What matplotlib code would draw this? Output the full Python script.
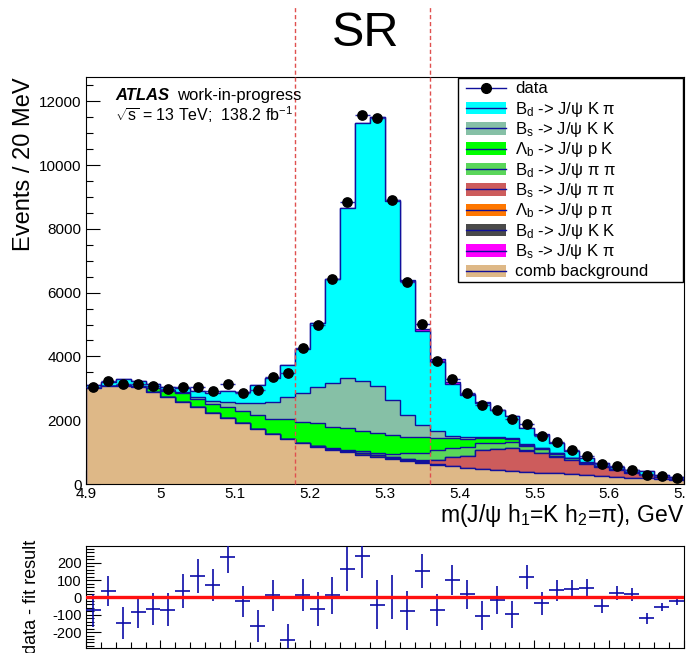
import numpy as np
import matplotlib
matplotlib.use('Agg')
import matplotlib.pyplot as plt
from matplotlib.patches import Rectangle
from matplotlib.lines import Line2D
from matplotlib.ticker import MultipleLocator, FuncFormatter

plt.rcParams['font.family'] = ['Liberation Sans', 'DejaVu Sans']
plt.rcParams['mathtext.fontset'] = 'custom'
plt.rcParams['mathtext.rm'] = 'Liberation Sans'
plt.rcParams['mathtext.it'] = 'Liberation Sans:italic'
plt.rcParams['mathtext.bf'] = 'Liberation Sans:bold'
plt.rcParams['axes.unicode_minus'] = False

# ---- data (40 bins of 20 MeV, 4.9 - 5.7 GeV) ----
data = [3044, 3240, 3131, 3146, 3075, 2969, 3044, 3044, 2928, 3137,
        2866, 2938, 3343, 3480, 4250, 4975, 6440, 8826, 11558, 11474,
        8900, 6334, 5016, 3841, 3302, 2844, 2470, 2305, 2047, 1879,
        1517, 1318, 1081, 872, 614, 570, 445, 280, 240, 187]

comb_bkg = [3000, 3080, 3080, 3030, 2900, 2730, 2560, 2400, 2230, 2070,
            1900, 1730, 1560, 1400, 1270, 1170, 1080, 1000, 920, 840,
            770, 710, 660, 600, 550, 510, 480, 450, 420, 390,
            360, 335, 310, 285, 260, 230, 200, 180, 155, 130]
bd_kk = [0, 0, 0, 0, 0, 0, 0, 0, 0, 0,
         0, 0, 0, 0, 0, 10, 20, 40, 60, 70,
         60, 40, 25, 15, 10, 5, 0, 0, 0, 0,
         0, 0, 0, 0, 0, 0, 0, 0, 0, 0]
bs_pipi = [0, 0, 0, 0, 0, 0, 0, 0, 0, 0,
           0, 0, 0, 0, 0, 0, 0, 0, 5, 10,
           20, 30, 50, 137, 276, 365, 586, 637, 698, 655,
           601, 522, 442, 342, 283, 209, 154, 100, 60, 30]
lb_ppi = [0, 0, 0, 0, 0, 0, 0, 0, 0, 0,
          0, 0, 0, 0, 0, 0, 0, 0, 0, 0,
          0, 0, 5, 8, 10, 12, 12, 12, 12, 10,
          10, 8, 8, 6, 5, 4, 3, 2, 1, 1]
bd_pipi = [0, 0, 0, 0, 0, 0, 0, 0, 0, 0,
           0, 0, 0, 0, 10, 15, 20, 30, 40, 40,
           80, 182, 242, 306, 272, 258, 197, 197, 177, 125,
           120, 85, 55, 35, 20, 15, 10, 8, 5, 3]
lb_pk = [0, 0, 10, 40, 120, 195, 290, 270, 290, 340,
         380, 430, 470, 630, 675, 707, 677, 675, 647, 650,
         606, 521, 481, 367, 315, 261, 157, 136, 104, 52,
         30, 20, 10, 5, 3, 2, 1, 1, 0, 0]
bs_kk = [0, 0, 0, 0, 5, 10, 30, 60, 90, 160,
         250, 380, 550, 690, 890, 1129, 1360, 1568, 1567, 1472,
         1097, 680, 387, 239, 72, 70, 40, 30, 25, 15,
         10, 8, 5, 3, 2, 2, 1, 1, 0, 0]
bd_kpi = [117, 122, 189, 163, 117, 105, 126, 189, 245, 332,
          359, 563, 751, 1006, 1393, 2011, 3271, 5346, 8079, 8434,
          6227, 4188, 2932, 2162, 1637, 1304, 1079, 843, 699, 505,
          416, 294, 200, 138, 87, 82, 56, 108, 72, 41]
bs_kpi = [0, 0, 0, 0, 0, 0, 0, 0, 0, 0,
          0, 0, 0, 0, 0, 0, 0, 0, 0, 0,
          40, 60, 80, 80, 60, 40, 25, 15, 10, 8,
          5, 4, 3, 2, 2, 1, 1, 1, 1, 1]

resid = [-73, 38, -148, -87, -67, -71, 38, 125, 73, 235,
         -23, -165, 12, -246, 12, -67, 12, 167, 240, -42,
         0, -77, 154, -73, 100, 19, -106, -15, -98, 119,
         -35, 42, 48, 56, -48, 25, 19, -121, -54, -19]
resid_err = [95, 88, 90, 88, 95, 95, 100, 98, 93, 95,
             90, 90, 90, 90, 92, 100, 105, 127, 125, 140,
             127, 112, 97, 90, 87, 83, 83, 81, 76, 71,
             66, 60, 52, 52, 44, 40, 37, 30, 22, 24]

NAVY = '#10109c'
# stack order, bottom to top
stack = [
    (comb_bkg, '#deb887'),
    (bd_kk, '#4a4a4a'),
    (bs_pipi, '#cd5c5c'),
    (lb_ppi, '#ff7700'),
    (bd_pipi, '#5ad65a'),
    (lb_pk, '#00ff00'),
    (bs_kk, '#86c0a6'),
    (bd_kpi, '#00ffff'),
    (bs_kpi, '#ff00ff'),
]
legend_rows = [
    ('B$_\\mathrm{d}$ -> J/ψ K π', '#00ffff'),
    ('B$_\\mathrm{s}$ -> J/ψ K K', '#86c0a6'),
    ('Λ$_\\mathrm{b}$ -> J/ψ p K', '#00ff00'),
    ('B$_\\mathrm{d}$ -> J/ψ π π', '#5ad65a'),
    ('B$_\\mathrm{s}$ -> J/ψ π π', '#cd5c5c'),
    ('Λ$_\\mathrm{b}$ -> J/ψ p π', '#ff7700'),
    ('B$_\\mathrm{d}$ -> J/ψ K K', '#4a4a4a'),
    ('B$_\\mathrm{s}$ -> J/ψ K π', '#ff00ff'),
    ('comb background', '#deb887'),
]

W, H = 686, 653
fig = plt.figure(figsize=(W / 100, H / 100), dpi=100)


def fx(x):
    return x / W


def fy(y):
    return 1 - y / H


ax = fig.add_axes([fx(85.7), fy(484), (684 - 85.7) / W, (484 - 77) / H])
rax = fig.add_axes([fx(85.7), fy(648), (684 - 85.7) / W, (648 - 546) / H])

edges = np.linspace(4.9, 5.7, 41)
centers = 0.5 * (edges[1:] + edges[:-1])

cum = np.cumsum([np.array(v, dtype=float) for v, _ in stack], axis=0)
for k in reversed(range(len(stack))):
    ax.stairs(cum[k], edges, baseline=0, fill=True, facecolor=stack[k][1],
              edgecolor=NAVY, linewidth=1.0, zorder=2)

ax.errorbar(centers, data, xerr=0.01, fmt='o', color='black', ms=6.7,
            ecolor='#2828b0', elinewidth=1, capsize=0, zorder=5)

ax.set_xlim(4.9, 5.7)
ax.set_ylim(0, 12760)
ax.xaxis.set_major_locator(MultipleLocator(0.1))
ax.xaxis.set_minor_locator(MultipleLocator(0.02))
ax.yaxis.set_major_locator(MultipleLocator(2000))
ax.yaxis.set_minor_locator(MultipleLocator(500))
ax.xaxis.set_major_formatter(FuncFormatter(lambda v, p: f'{v:g}'))
ax.tick_params(which='both', direction='in', top=False, right=False,
               labelsize=11, width=0.8)
ax.tick_params(axis='y', which='major', length=10, pad=3)
ax.tick_params(axis='y', which='minor', length=5)
ax.tick_params(axis='x', which='major', length=10, pad=2.5)
ax.tick_params(axis='x', which='minor', length=4.5)

ax.set_ylabel('Events / 20 MeV', fontsize=17, loc='top')
ax.yaxis.set_label_coords(-0.085, 1.0)
ax.set_xlabel('m(J/ψ h$_\\mathrm{1}$=K h$_\\mathrm{2}$=π), GeV', fontsize=16.5, loc='right')
ax.xaxis.set_label_coords(1.0, -0.045)

for xv in (5.18, 5.36):
    ax.axvline(xv, ymin=0, ymax=(484 - 7) / 407, color='#e0504f', lw=1,
               ls=(0, (3, 2)), clip_on=False, zorder=6)

fig.text(fx(115), fy(100), 'ATLAS', fontsize=12, fontweight='bold',
         fontstyle='italic', va='baseline')
fig.text(fx(176.7), fy(100), 'work-in-progress', fontsize=12, va='baseline')
fig.text(fx(115), fy(121), '$\\sqrt{\\mathrm{s}}$ = 13 TeV;  138.2 fb$^{-1}$',
         fontsize=11.5, va='baseline')
fig.text(fx(366), fy(33), 'SR', fontsize=35, ha='center', va='center')

# legend, ROOT style
fig.add_artist(Rectangle((fx(457.5), fy(281.5)), (683 - 457.5) / W, (281.5 - 78) / H,
                         transform=fig.transFigure, facecolor='white',
                         edgecolor='black', lw=1, zorder=10))
cy = 87.7
fig.add_artist(Line2D([fx(466), fx(506)], [fy(cy), fy(cy)], color=NAVY, lw=1,
                      transform=fig.transFigure, zorder=11))
fig.add_artist(Line2D([fx(486)], [fy(cy)], marker='o', ms=7, color='black',
                      transform=fig.transFigure, zorder=12))
fig.text(fx(515), fy(cy + 5), 'data', fontsize=12, va='baseline', zorder=12)
for i, (label, col) in enumerate(legend_rows):
    cy = 87.7 + 20.35 * (i + 1)
    fig.add_artist(Rectangle((fx(466), fy(cy + 6.3)), 40 / W, 12.6 / H,
                             transform=fig.transFigure, facecolor=col,
                             edgecolor='none', zorder=11))
    fig.add_artist(Line2D([fx(466), fx(506)], [fy(cy), fy(cy)], color=NAVY, lw=1,
                          transform=fig.transFigure, zorder=12))
    fig.text(fx(515), fy(cy + 5.5), label, fontsize=12, va='baseline', zorder=12)

# residual panel
rax.errorbar(centers, resid, xerr=0.01, yerr=resid_err, fmt='none',
             ecolor='#0c0ca8', elinewidth=1.2, capsize=0, zorder=3)
rax.axhline(0, color='#ff1010', lw=2.4, zorder=4)
rax.set_xlim(4.9, 5.7)
rax.set_ylim(-292, 297)
rax.xaxis.set_major_locator(MultipleLocator(0.1))
rax.xaxis.set_minor_locator(MultipleLocator(0.02))
rax.yaxis.set_major_locator(MultipleLocator(100))
rax.yaxis.set_minor_locator(MultipleLocator(20))
rax.tick_params(which='both', direction='in', top=False, right=False,
                labelbottom=False, labelsize=10.5, width=0.8)
rax.tick_params(axis='y', which='major', length=11, pad=3)
rax.tick_params(axis='y', which='minor', length=6)
rax.tick_params(axis='x', which='major', length=6)
rax.tick_params(axis='x', which='minor', length=4)
rax.set_ylabel('data - fit result', fontsize=13)
rax.yaxis.set_label_coords(-0.076, 0.5)

fig.savefig('out.png', dpi=100, facecolor='white')
